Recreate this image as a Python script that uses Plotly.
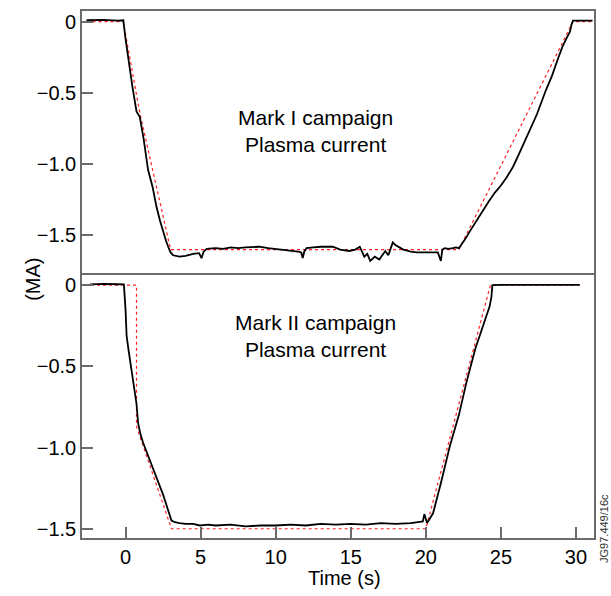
import plotly.graph_objects as go
from plotly.subplots import make_subplots

# ─────────────────────────────────────────────
# DATA
# ─────────────────────────────────────────────
mk1_t = [-2.6, -1.5, -0.5, -0.15, 0.0, 0.2, 0.45, 0.73, 0.95, 1.2, 1.5, 1.8, 2.06, 2.3, 2.5,
         2.7, 2.84, 3.0, 3.17, 3.6, 4.0, 4.5, 4.9, 5.06, 5.2, 5.4, 6.0, 6.5, 7.0, 7.5, 8.0,
         8.5, 8.9, 9.5, 10.0, 10.5, 11.0, 11.5, 11.7, 11.8, 11.9, 12.05, 12.5, 13.0, 13.8,
         14.3, 14.9, 15.3, 15.6, 15.9, 16.1, 16.3, 16.6, 16.9, 17.1, 17.3, 17.5, 17.8, 18.0,
         18.3, 18.5, 19.0, 19.4, 20.0, 20.5, 20.8, 21.0, 21.1, 21.26, 21.5, 21.8, 22.0, 22.2,
         22.6, 23.0, 23.4, 23.8, 24.2, 24.6, 25.0, 25.4, 25.8, 26.2, 26.7, 27.0, 27.4, 28.0,
         28.4, 28.8, 29.1, 29.4, 29.6, 29.7, 29.8, 30.5, 31.1]
mk1_ip = [0.01, 0.012, 0.008, 0.01, -0.12, -0.28, -0.45, -0.63, -0.67, -0.82, -1.04, -1.16,
          -1.30, -1.40, -1.48, -1.54, -1.58, -1.62, -1.64, -1.65, -1.645, -1.63, -1.625, -1.66,
          -1.615, -1.595, -1.59, -1.595, -1.585, -1.59, -1.585, -1.58, -1.58, -1.59, -1.595,
          -1.60, -1.605, -1.615, -1.62, -1.66, -1.615, -1.59, -1.585, -1.58, -1.58, -1.60,
          -1.61, -1.60, -1.58, -1.65, -1.63, -1.68, -1.65, -1.67, -1.64, -1.61, -1.64, -1.55,
          -1.57, -1.59, -1.60, -1.615, -1.62, -1.62, -1.62, -1.62, -1.68, -1.60, -1.59, -1.595,
          -1.59, -1.585, -1.59, -1.53, -1.46, -1.39, -1.32, -1.26, -1.20, -1.15, -1.09, -1.02,
          -0.93, -0.81, -0.74, -0.65, -0.48, -0.38, -0.26, -0.175, -0.11, -0.07, -0.02, 0.007,
          0.007, 0.007]
mk1_ref_t = [-2.6, -0.15, 0.95, 3.0, 22.2, 29.8, 31.1]
mk1_ref_ip = [0.0, 0.0, -0.64, -1.60, -1.60, 0.0, 0.0]

mk2_t = [-2.37, -1.5, -0.5, -0.11, 0.0, 0.07, 0.2, 0.4, 0.6, 0.73, 0.84, 1.0, 1.17, 1.5, 2.06,
         2.5, 3.06, 3.28, 3.6, 4.0, 4.5, 4.95, 5.5, 6.0, 7.0, 8.0, 9.0, 10.0, 11.0, 12.0, 13.0,
         14.0, 15.0, 16.0, 17.0, 18.0, 19.0, 19.6, 19.8, 19.9, 20.08, 20.25, 20.48, 21.0, 21.6,
         22.2, 22.7, 23.3, 23.8, 24.1, 24.25, 24.37, 24.43, 25.0, 27.0, 30.25]
mk2_ip = [0.005, 0.008, 0.006, 0.005, -0.15, -0.31, -0.40, -0.52, -0.63, -0.73, -0.85, -0.92,
          -0.97, -1.05, -1.18, -1.29, -1.45, -1.46, -1.465, -1.47, -1.47, -1.48, -1.475, -1.48,
          -1.475, -1.485, -1.48, -1.48, -1.475, -1.48, -1.47, -1.475, -1.47, -1.475, -1.465,
          -1.47, -1.465, -1.46, -1.455, -1.41, -1.465, -1.44, -1.405, -1.22, -0.99, -0.80,
          -0.60, -0.39, -0.25, -0.17, -0.13, -0.07, 0.0, 0.002, 0.002, 0.002]
mk2_ref_t = [-2.3, 0.73, 0.73, 3.06, 20.0, 24.3, 30.25]
mk2_ref_ip = [0.0, 0.0, -0.87, -1.50, -1.50, 0.0, 0.0]

y_ticks = [0, -0.5, -1.0, -1.5]
y_labels = ["0", "\u22120.5", "\u22121.0", "\u22121.5"]
x_ticks = [0, 5, 10, 15, 20, 25, 30]

FONT = "Arial, 'Liberation Sans', sans-serif"
AXIS_COL = "#6b6b6b"

# ─────────────────────────────────────────────
fig = make_subplots(rows=2, cols=1, shared_xaxes=True, vertical_spacing=0)

fig.add_trace(go.Scatter(x=mk1_ref_t, y=mk1_ref_ip, mode="lines",
                         line=dict(color="#ff2020", width=1.2, dash="dot")), row=1, col=1)
fig.add_trace(go.Scatter(x=mk1_t, y=mk1_ip, mode="lines",
                         line=dict(color="black", width=1.8)), row=1, col=1)
fig.add_trace(go.Scatter(x=mk2_ref_t, y=mk2_ref_ip, mode="lines",
                         line=dict(color="#ff2020", width=1.2, dash="dot")), row=2, col=1)
fig.add_trace(go.Scatter(x=mk2_t, y=mk2_ip, mode="lines",
                         line=dict(color="black", width=1.8)), row=2, col=1)

axis_common = dict(showline=True, linecolor=AXIS_COL, linewidth=1.6,
                   showgrid=False, zeroline=False, tickcolor=AXIS_COL, tickwidth=1.5)

fig.update_xaxes(range=[-2.9, 31.2], **axis_common)
# top panel: only its top border; the shared middle line comes from the lower panel
fig.update_xaxes(ticks="", showticklabels=False, side="top", mirror=False, row=1, col=1)
fig.update_xaxes(ticks="inside", ticklen=11, tickvals=x_ticks, mirror=True, row=2, col=1)

fig.update_yaxes(ticks="inside", ticklen=11, tickvals=y_ticks, ticktext=y_labels,
                 mirror=True, **axis_common)
fig.update_yaxes(range=[-1.775, 0.075], row=1, col=1)
fig.update_yaxes(range=[-1.557, 0.066], row=2, col=1)

fig.add_annotation(text="Mark I campaign<br>Plasma current", xref="paper", yref="paper",
                   x=0.456, y=0.823, showarrow=False, font=dict(size=21, color="black"))
fig.add_annotation(text="Mark II campaign<br>Plasma current", xref="paper", yref="paper",
                   x=0.456, y=0.333, showarrow=False, font=dict(size=21, color="black"))
fig.add_annotation(text="Time (s)", xref="paper", yref="paper", x=0.513, y=-0.076,
                   yanchor="middle", showarrow=False, font=dict(size=20, color="black"))
fig.add_annotation(text="(MA)", xref="paper", yref="paper", x=-0.121, y=0.49,
                   textangle=-90, showarrow=False, font=dict(size=20, color="black"))
fig.add_annotation(text="JG97.449/16c", xref="paper", yref="paper", x=1.0195, y=0.019,
                   xanchor="center", yanchor="middle", textangle=-90, showarrow=False,
                   font=dict(size=11, color="#333"))

fig.update_layout(
    width=611, height=596,
    margin=dict(l=82, r=17, t=11, b=58),
    paper_bgcolor="white", plot_bgcolor="white",
    font=dict(family=FONT, size=20, color="black"),
    showlegend=False,
)

# page body has an 8px default margin; drop it so the figure sits at the window corner
fig.write_html("out.html", config={"displayModeBar": False},
               post_script="document.body.style.margin='0';")
